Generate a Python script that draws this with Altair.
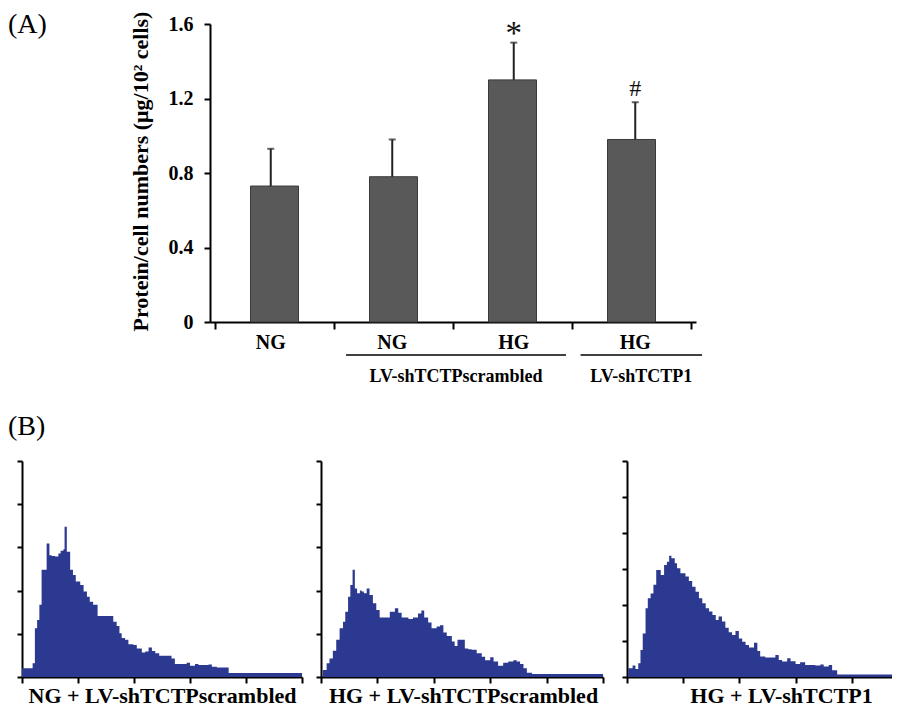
import altair as alt
import pandas as pd

# ---------------- Panel A data ----------------
conditions = ["NG", "NG", "HG", "HG"]
protein_mean = [0.73, 0.78, 1.30, 0.98]
protein_sd = [0.20, 0.20, 0.20, 0.20]
significance = ["", "", "*", "#"]
group_names = ["LV-shTCTPscrambled", "LV-shTCTP1"]
group_start = [1.12, 3.05]
group_end = [2.93, 4.05]
bar_y_ticks = [0, 0.4, 0.8, 1.2, 1.6]
bar_x_ticks = [0, 1, 2, 3, 4]

# ---------------- Panel B data (step histograms) ----------------
hist_titles = ["NG + LV-shTCTPscrambled", "HG + LV-shTCTPscrambled", "HG + LV-shTCTP1"]

h1_edges = [0.00, 0.19, 0.23, 0.27, 0.31, 0.35, 0.44, 0.49, 0.53, 0.59, 0.65, 0.69, 0.74, 0.76,
            0.80, 0.86, 0.91, 0.96, 1.04, 1.10, 1.16, 1.21, 1.27, 1.35, 1.63, 1.69, 1.74, 1.78,
            1.84, 1.90, 1.99, 2.05, 2.14, 2.20, 2.26, 2.32, 2.38, 2.45, 2.67, 2.73, 2.94, 3.00,
            3.09, 3.15, 3.33, 3.39, 3.48, 3.69, 5.00]
h1_counts = [0.20, 0.32, 1.13, 1.32, 1.67, 2.48, 3.09, 2.82, 2.80, 2.79, 2.86, 2.92, 2.96, 3.48,
             2.90, 2.48, 2.36, 2.21, 2.13, 1.98, 1.86, 1.74, 1.67, 1.41, 1.28, 1.18, 1.01, 0.90,
             0.86, 0.76, 0.74, 0.66, 0.57, 0.59, 0.68, 0.60, 0.55, 0.49, 0.43, 0.30, 0.33, 0.26,
             0.30, 0.28, 0.29, 0.24, 0.22, 0.09]

h2_edges = [0.03, 0.10, 0.15, 0.21, 0.27, 0.33, 0.39, 0.43, 0.48, 0.52, 0.56, 0.60, 0.64, 0.69,
            0.72, 0.76, 0.81, 0.86, 0.92, 0.98, 1.04, 1.22, 1.31, 1.37, 1.43, 1.55, 1.63, 1.72,
            1.78, 1.83, 1.90, 1.96, 2.05, 2.11, 2.17, 2.23, 2.32, 2.37, 2.42, 2.55, 2.61, 2.67,
            2.76, 2.85, 2.91, 3.00, 3.06, 3.14, 3.23, 3.32, 3.41, 3.47, 3.53, 3.59, 3.65, 3.74,
            5.00]
h2_counts = [0.16, 0.32, 0.43, 0.61, 0.86, 1.13, 1.28, 1.51, 1.86, 2.13, 2.48, 2.05, 1.94, 2.00,
             1.98, 1.94, 2.05, 1.90, 1.71, 1.55, 1.38, 1.51, 1.59, 1.49, 1.38, 1.34, 1.38, 1.47,
             1.54, 1.38, 1.26, 1.13, 1.17, 1.20, 1.03, 0.95, 0.82, 0.72, 0.86, 0.66, 0.64, 0.63,
             0.55, 0.47, 0.39, 0.46, 0.36, 0.26, 0.33, 0.36, 0.39, 0.36, 0.30, 0.20, 0.10, 0.07]

h3_edges = [0.02, 0.10, 0.15, 0.20, 0.24, 0.28, 0.33, 0.37, 0.42, 0.47, 0.52, 0.60, 0.66, 0.71,
            0.75, 0.79, 0.85, 0.89, 0.95, 1.04, 1.10, 1.16, 1.22, 1.28, 1.34, 1.40, 1.46, 1.52,
            1.58, 1.63, 1.69, 1.75, 1.81, 1.87, 1.93, 1.99, 2.05, 2.11, 2.17, 2.26, 2.32, 2.37,
            2.46, 2.64, 2.70, 2.76, 2.85, 2.91, 3.00, 3.08, 3.17, 3.35, 3.44, 3.50, 3.59, 3.65,
            3.74, 5.00]
h3_counts = [0.24, 0.32, 0.22, 0.38, 0.75, 1.21, 1.91, 2.19, 2.32, 2.56, 2.97, 2.83, 3.11, 3.20,
             3.37, 3.30, 3.16, 3.02, 2.88, 2.79, 2.67, 2.51, 2.37, 2.19, 2.05, 1.91, 1.82, 1.72,
             1.58, 1.68, 1.54, 1.37, 1.24, 1.17, 1.28, 1.07, 0.98, 0.89, 0.82, 0.95, 0.72, 0.57,
             0.54, 0.61, 0.47, 0.43, 0.52, 0.44, 0.36, 0.41, 0.33, 0.32, 0.35, 0.29, 0.33, 0.19,
             0.07]
hist_y_max = [5, 5, 6]

# ---------------- layout (pixels inside the chart) ----------------
W, H = 884, 704
FONT = "Liberation Serif"
BAR_XR = [202, 688]
BAR_YR = [314, 16]
HIST_XR = [[14, 294], [313, 595], [619, 900]]
HIST_YR = [669, 453]
HIST_TITLE_X = [154, 455, 773]

AX = dict(domainColor="black", domainWidth=2, tickColor="black", tickWidth=2, grid=False)

# ---------------- Panel A ----------------
bar_df = pd.DataFrame({
    "pos": [i + 0.5 for i in range(len(conditions))],
    "cond": conditions,
    "mean": protein_mean,
    "top": [m + s for m, s in zip(protein_mean, protein_sd)],
    "sig": significance,
})
grp_df = pd.DataFrame({
    "name": group_names,
    "start": group_start,
    "end": group_end,
    "mid": [(a + b) / 2 for a, b in zip(group_start, group_end)],
})


def xs_bar():
    return alt.Scale(domain=[0, 4], range=BAR_XR, nice=False, zero=False)


def ys_bar():
    return alt.Scale(domain=[0, 1.6], range=BAR_YR, nice=False, zero=False)


bar_x_axis = alt.Axis(orient="bottom", offset=BAR_YR[0] - H, values=bar_x_ticks, labels=False,
                      title=None, tickSize=7, **AX)
bar_y_axis = alt.Axis(orient="left", offset=-BAR_XR[0], values=bar_y_ticks,
                      labelExpr="datum.value == 0 ? '0' : format(datum.value, '.1f')",
                      labelFont=FONT, labelFontSize=20, labelFontWeight="bold", labelColor="black",
                      labelPadding=11, tickSize=6,
                      title="Protein/cell numbers (μg/10² cells)", titleFont=FONT,
                      titleFontSize=22, titleFontWeight="bold", titleColor="black",
                      titleAngle=270, titleX=-70, titleY=163, titleAlign="center",
                      titleBaseline="middle", **AX)

bars = alt.Chart(bar_df).mark_bar(size=48, color="#595959", stroke="#3a3a3a", strokeWidth=1).encode(
    x=alt.X("pos:Q", scale=xs_bar(), axis=bar_x_axis),
    y=alt.Y("mean:Q", scale=ys_bar(), axis=bar_y_axis),
)
err = alt.Chart(bar_df).mark_rule(color="#222222", strokeWidth=2).encode(
    x=alt.X("pos:Q", scale=xs_bar(), axis=None),
    y=alt.Y("mean:Q", scale=ys_bar(), axis=None),
    y2="top:Q",
)
cap = alt.Chart(bar_df).mark_tick(orient="horizontal", size=7, thickness=2, color="#222222").encode(
    x=alt.X("pos:Q", scale=xs_bar(), axis=None),
    y=alt.Y("top:Q", scale=ys_bar(), axis=None),
)
sig_star = alt.Chart(bar_df).transform_filter("datum.sig == '*'").mark_text(
    font=FONT, fontSize=33, baseline="alphabetic", dy=1, color="#111111").encode(
    x=alt.X("pos:Q", scale=xs_bar(), axis=None),
    y=alt.Y("top:Q", scale=ys_bar(), axis=None),
    text="sig:N",
)
sig_hash = alt.Chart(bar_df).transform_filter("datum.sig == '#'").mark_text(
    font=FONT, fontSize=24, baseline="alphabetic", dy=-6, color="#111111").encode(
    x=alt.X("pos:Q", scale=xs_bar(), axis=None),
    y=alt.Y("top:Q", scale=ys_bar(), axis=None),
    text="sig:N",
)
cond_lbl = alt.Chart(bar_df).mark_text(font=FONT, fontSize=20, fontWeight="bold", baseline="middle",
                                       color="black").encode(
    x=alt.X("pos:Q", scale=xs_bar(), axis=None),
    y=alt.value(335),
    text="cond:N",
)
grp_line = alt.Chart(grp_df).mark_rule(color="black", strokeWidth=1.5).encode(
    x=alt.X("start:Q", scale=xs_bar(), axis=None),
    x2="end:Q",
    y=alt.value(347),
)
grp_lbl = alt.Chart(grp_df).mark_text(font=FONT, fontSize=18, fontWeight="bold", baseline="middle",
                                      color="black").encode(
    x=alt.X("mid:Q", scale=xs_bar(), axis=None),
    y=alt.value(369),
    text="name:N",
)


# ---------------- Panel B ----------------
def make_hist(edges, counts, k):
    df = pd.DataFrame({"x": edges, "y": list(counts) + [counts[-1]]})
    ymax = hist_y_max[k]
    xr = HIST_XR[k]
    return alt.Chart(df).mark_area(interpolate="step-after", color="#2c3990").encode(
        x=alt.X("x:Q",
                scale=alt.Scale(domain=[0, 5], range=xr, nice=False, zero=False),
                axis=alt.Axis(orient="bottom", offset=HIST_YR[0] - H, values=[0, 1, 2, 3, 4, 5],
                              labels=False, tickSize=6, title=hist_titles[k], titleFont=FONT,
                              titleFontSize=22, titleFontWeight="bold", titleColor="black",
                              titleX=HIST_TITLE_X[k], titleY=25, titleAlign="center",
                              titleBaseline="alphabetic", **AX)),
        y=alt.Y("y:Q",
                scale=alt.Scale(domain=[0, ymax], range=HIST_YR, nice=False, zero=False),
                axis=alt.Axis(orient="left", offset=-xr[0], values=list(range(ymax + 1)),
                              labels=False, tickSize=5, title=None, **AX)),
    )


h1 = make_hist(h1_edges, h1_counts, 0)
h2 = make_hist(h2_edges, h2_counts, 1)
h3 = make_hist(h3_edges, h3_counts, 2)

panel_labels = alt.Chart(pd.DataFrame({"t": ["(A)", "(B)"], "py": [25, 427]})).mark_text(
    font=FONT, fontSize=28, align="left", baseline="alphabetic", color="black").encode(
    x=alt.value(0),
    y=alt.Y("py:Q", scale=alt.Scale(domain=[0, H], range=[0, H]), axis=None),
    text="t:N",
)

chart = alt.layer(
    bars, err, cap, sig_star, sig_hash, cond_lbl, grp_line, grp_lbl,
    h1, h2, h3, panel_labels,
).resolve_scale(
    x="independent", y="independent"
).resolve_axis(
    x="independent", y="independent"
).properties(
    width=W, height=H, autosize=alt.AutoSizeParams(type="none"), padding=0,
    background="white",
).configure_view(stroke=None)

chart.save("out.html", embed_options={"renderer": "svg", "actions": False})
